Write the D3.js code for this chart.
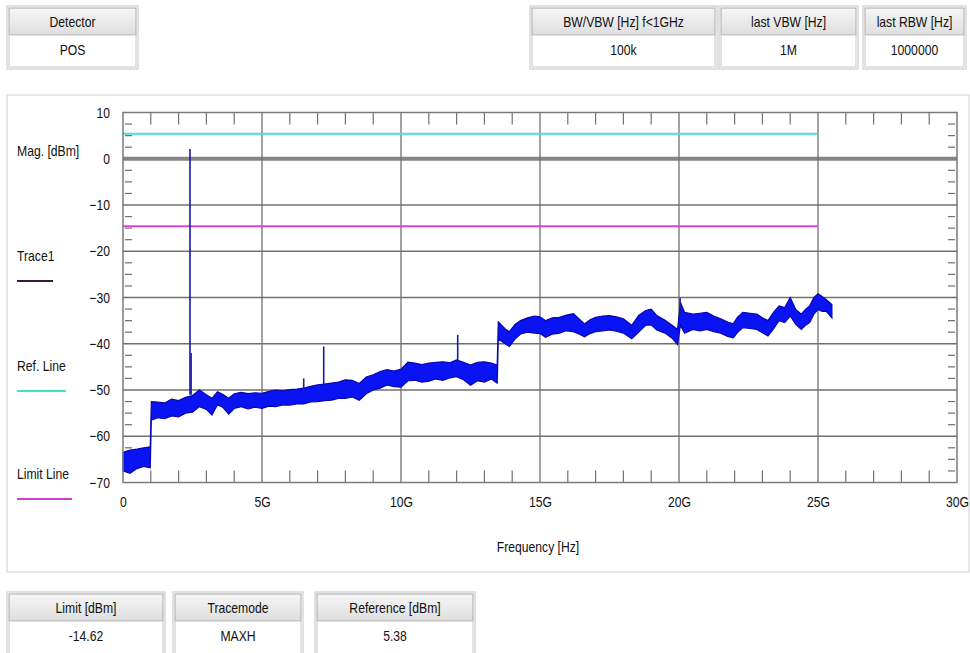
<!DOCTYPE html>
<html>
<head>
<meta charset="utf-8">
<script src="https://cdn.jsdelivr.net/npm/d3@7"></script>
<style>
  body { margin: 0; background: #fff; }
  svg text { font-family: "Liberation Sans", Arial, sans-serif; font-size: 14.5px; fill: #111; }
</style>
</head>
<body>
<svg id="chart" width="970" height="653"></svg>
<script>
// trace envelope (GHz, lower edge dBm, upper edge dBm)
const TRACE_GHZ = [0, 0.25, 0.5, 0.75, 0.98, 1.02, 1.25, 1.5, 1.75, 2, 2.25, 2.5, 2.75, 3, 3.2, 3.4, 3.6, 3.8, 4,
  4.25, 4.5, 4.75, 5, 5.25, 5.5, 5.75, 6, 6.25, 6.5, 6.75, 7, 7.25, 7.5, 7.75, 8, 8.25, 8.5, 8.75, 9, 9.25, 9.5,
  9.75, 10, 10.25, 10.5, 10.75, 11, 11.25, 11.5, 11.75, 12, 12.25, 12.5, 12.75, 13, 13.25, 13.46, 13.5, 13.75, 13.9,
  14.1, 14.3, 14.55, 14.8, 15, 15.2, 15.45, 15.7, 15.95, 16.2, 16.4, 16.6, 16.8, 17, 17.25, 17.5, 17.75, 18, 18.3,
  18.55, 18.8, 19, 19.2, 19.5, 19.75, 19.95, 20.05, 20.2, 20.5, 20.75, 21, 21.25, 21.5, 21.75, 21.95, 22.1, 22.3,
  22.55, 22.8, 23, 23.2, 23.4, 23.6, 23.8, 24, 24.2, 24.4, 24.55, 24.7, 24.85, 25, 25.15, 25.3, 25.5];
const TRACE_LO = [-67.5, -68, -67, -66.5, -66.8, -56.5, -56, -56.2, -55.6, -55.8, -55, -54.8, -53.6, -54.2, -55.4,
  -53.2, -53.8, -55.2, -54, -53.6, -54.1, -53.7, -54, -53.5, -53.6, -53.2, -53.3, -53, -53, -52.6, -52.5, -52.3,
  -52.2, -51.8, -51.8, -51.5, -52.2, -50.8, -50, -49.6, -48.9, -49.3, -49.4, -48, -47.9, -48.3, -48.1, -47.6, -47.9,
  -47.4, -47.1, -47.8, -49, -48, -48.3, -47.6, -48.5, -39, -40, -40.6, -39, -37.9, -37.5, -37.7, -37.8, -38.6, -37.9,
  -37.7, -37.2, -37.4, -37.9, -38.5, -37.8, -37.4, -37.2, -37, -37.3, -37.7, -38.9, -37.5, -36, -35.9, -37, -37.7,
  -38.8, -40.2, -36, -37.7, -36.9, -37.2, -36.9, -37.4, -37.7, -38.4, -38.7, -37.6, -36.5, -36.7, -36.9, -37.6,
  -38.3, -36.8, -35, -35.4, -34, -35.8, -36.9, -36, -35.4, -33.6, -32.6, -33, -33, -34.4];
const TRACE_HI = [-63.5, -63, -62.8, -62.5, -62.3, -52.5, -52.6, -52.8, -52, -52.3, -51.6, -51.2, -50, -51, -51.8,
  -50.4, -51, -51.8, -50.8, -50.5, -50.8, -50.6, -50.7, -50.3, -50, -50.2, -49.9, -49.8, -49.6, -49.2, -48.9, -48.7,
  -48.5, -48.3, -47.8, -47.9, -48.6, -47.2, -46.7, -46, -45.6, -45.9, -45.5, -44, -44.2, -44.5, -44.2, -44, -43.9,
  -44.1, -43.5, -44, -44.6, -44, -43.9, -44.2, -44.6, -35.3, -36.8, -37.4, -35.8, -35, -34.4, -34, -34.2, -35, -34.4,
  -34.3, -33.8, -33.5, -34.6, -35.7, -34.8, -34.3, -34, -33.9, -34.2, -34.6, -36, -33.9, -32.8, -32.5, -33.9, -34.9,
  -36, -36.9, -31, -33.2, -33.6, -33.4, -33.2, -34, -34.6, -35.3, -35.7, -34.3, -33.2, -33.4, -33.6, -34.4, -35,
  -33.2, -31.8, -32.2, -30, -32.6, -33.6, -32.6, -31.8, -30, -29.2, -29.8, -30.5, -31.5];

// narrow spurs sticking out of the noise
const SPIKE_GHZ = [2.41, 2.45, 6.5, 7.22, 12.04, 20.04];
const SPIKE_TOP = [2.1, -42, -47.5, -40.6, -38.1, -30.1];
const SPIKE_BASE = [-51, -51, -50, -49, -44, -34];

const REF_LEVEL = 5.38;
const LIMIT_LEVEL = -14.62;
const LINE_END_GHZ = 25;

const X_TICKS = [0, 5, 10, 15, 20, 25, 30];
const X_LABELS = ["0", "5G", "10G", "15G", "20G", "25G", "30G"];
const Y_TICKS = [10, 0, -10, -20, -30, -40, -50, -60, -70];

const TOP_HEADERS = ["Detector", "BW/VBW [Hz] f<1GHz", "last VBW [Hz]", "last RBW [Hz]"];
const TOP_VALUES = ["POS", "100k", "1M", "1000000"];
const BOTTOM_HEADERS = ["Limit [dBm]", "Tracemode", "Reference [dBm]"];
const BOTTOM_VALUES = ["-14.62", "MAXH", "5.38"];

const LEGEND = [
  { label: "Trace1", color: "#3a1a3a", y: 257, len: 36 },
  { label: "Ref. Line", color: "#40e0d0", y: 367, len: 49 },
  { label: "Limit Line", color: "#d040d0", y: 475, len: 55 },
];

const SQUEEZE = 0.84; // the screen font is narrower than Arial

const svg = d3.select("#chart");

const defs = svg.append("defs");
const grad = defs.append("linearGradient").attr("id", "hdr").attr("x1", 0).attr("x2", 0).attr("y1", 0).attr("y2", 1);
grad.append("stop").attr("offset", "0%").attr("stop-color", "#f6f6f6");
grad.append("stop").attr("offset", "100%").attr("stop-color", "#dedede");

function label(parent, x, y, txt, anchor) {
  parent.append("g")
    .attr("transform", `translate(${x},${y}) scale(${SQUEEZE},1)`)
    .append("text")
    .attr("text-anchor", anchor || "start")
    .attr("dominant-baseline", "middle")
    .text(txt);
}

function drawBox(x, y, w, h, header, value) {
  const g = svg.append("g").attr("transform", `translate(${x},${y})`);
  g.append("rect").attr("width", w).attr("height", h)
    .attr("fill", "#fff").attr("stroke", "#c4c4c4");
  g.append("rect").attr("x", 2).attr("y", 2).attr("width", w - 4).attr("height", 27)
    .attr("fill", "url(#hdr)").attr("stroke", "#a8a8a8");
  g.append("rect").attr("x", 2).attr("y", 29).attr("width", w - 4).attr("height", h - 31)
    .attr("fill", "#fff").attr("stroke", "#c8c8c8");
  label(g, w / 2, 17, header, "middle");
  label(g, w / 2, 45, value, "middle");
}

const TOP_BOXES = [[7, 131], [530, 187], [719, 139], [863, 103]];
TOP_BOXES.forEach((b, i) => drawBox(b[0], 6, b[1], 63, TOP_HEADERS[i], TOP_VALUES[i]));

const BOTTOM_BOXES = [[7, 158], [173, 130], [315, 160]];
BOTTOM_BOXES.forEach((b, i) => drawBox(b[0], 592, b[1], 70, BOTTOM_HEADERS[i], BOTTOM_VALUES[i]));

// main panel
svg.append("rect").attr("x", 7).attr("y", 95).attr("width", 962).attr("height", 477)
  .attr("fill", "#fff").attr("stroke", "#cfcfcf");

const xScale = d3.scaleLinear().domain([0, 30]).range([123, 957]);
const yScale = d3.scaleLinear().domain([-70, 10]).range([482.5, 112.5]);

const plot = svg.append("g");

// grid
plot.selectAll(".hgrid")
  .data(Y_TICKS.filter(v => v > -70 && v < 10))
  .enter().append("line")
  .attr("x1", xScale(0)).attr("x2", xScale(30))
  .attr("y1", d => yScale(d)).attr("y2", d => yScale(d))
  .attr("stroke", d => d === 0 ? "#858585" : "#707070")
  .attr("stroke-width", d => d === 0 ? 4 : 1.3);

plot.selectAll(".vgrid")
  .data(X_TICKS.filter(v => v > 0 && v < 30))
  .enter().append("line")
  .attr("y1", yScale(10)).attr("y2", yScale(-70))
  .attr("x1", d => xScale(d)).attr("x2", d => xScale(d))
  .attr("stroke", "#707070").attr("stroke-width", 1.3);

// minor ticks
const xMinor = d3.range(1, 30).filter(v => v % 5 !== 0);
const yMinor = d3.range(-67.5, 10, 2.5).filter(v => v % 10 !== 0);
[[yScale(10), yScale(10) + 12], [yScale(-70) - 12, yScale(-70)]].forEach(([a, b]) => {
  plot.append("g").selectAll("line").data(xMinor).enter().append("line")
    .attr("x1", d => xScale(d)).attr("x2", d => xScale(d))
    .attr("y1", a).attr("y2", b)
    .attr("stroke", "#707070").attr("stroke-width", 1.2);
});
[[xScale(0) + 2, xScale(0) + 9], [xScale(30) - 9, xScale(30) - 2]].forEach(([a, b]) => {
  plot.append("g").selectAll("line").data(yMinor).enter().append("line")
    .attr("x1", a).attr("x2", b)
    .attr("y1", d => yScale(d)).attr("y2", d => yScale(d))
    .attr("stroke", "#707070").attr("stroke-width", 1.2);
});

// reference and limit lines
[[REF_LEVEL, "#40e0d8"], [LIMIT_LEVEL, "#e040e0"]].forEach(([v, c]) => {
  plot.append("line")
    .attr("x1", xScale(0)).attr("x2", xScale(LINE_END_GHZ))
    .attr("y1", yScale(v)).attr("y2", yScale(v))
    .attr("stroke", c).attr("stroke-width", 2);
});

// trace
const traceData = TRACE_GHZ.map((f, i) => ({ f, lo: TRACE_LO[i], hi: TRACE_HI[i] }));
const area = d3.area()
  .x(d => xScale(d.f))
  .y0(d => yScale(d.lo))
  .y1(d => yScale(d.hi));
plot.append("path").datum(traceData)
  .attr("d", area)
  .attr("fill", "#0a14f2")
  .attr("stroke", "#0606b0")
  .attr("stroke-width", 1.2)
  .attr("stroke-linejoin", "miter");

plot.selectAll(".spike")
  .data(SPIKE_GHZ.map((f, i) => ({ f, top: SPIKE_TOP[i], base: SPIKE_BASE[i] })))
  .enter().append("line")
  .attr("x1", d => xScale(d.f)).attr("x2", d => xScale(d.f))
  .attr("y1", d => yScale(d.base)).attr("y2", d => yScale(d.top))
  .attr("stroke", "#1a1aa8").attr("stroke-width", 1.6);

// frame
plot.append("rect")
  .attr("x", xScale(0)).attr("y", yScale(10))
  .attr("width", xScale(30) - xScale(0)).attr("height", yScale(-70) - yScale(10))
  .attr("fill", "none").attr("stroke", "#7a7a7a").attr("stroke-width", 1.5);

// axes labels
const yAxis = svg.append("g")
  .attr("transform", "translate(110,0)")
  .call(d3.axisLeft(yScale).tickValues(Y_TICKS).tickSize(0).tickPadding(0));
yAxis.select(".domain").remove();
yAxis.selectAll("text").attr("font-size", null).attr("font-family", null)
  .attr("transform", `scale(${SQUEEZE},1)`);

const xAxis = svg.append("g")
  .attr("transform", "translate(0,497)")
  .call(d3.axisBottom(xScale).tickValues(X_TICKS).tickSize(0).tickPadding(0)
    .tickFormat((d, i) => X_LABELS[i]));
xAxis.select(".domain").remove();
xAxis.selectAll("text").attr("font-size", null).attr("font-family", null)
  .attr("transform", `scale(${SQUEEZE},1)`);

label(svg, 538, 548, "Frequency [Hz]", "middle");

// legend
label(svg, 17, 152, "Mag. [dBm]");
LEGEND.forEach(d => {
  label(svg, 17, d.y, d.label);
  svg.append("line")
    .attr("x1", 17).attr("x2", 17 + d.len)
    .attr("y1", d.y + 24).attr("y2", d.y + 24)
    .attr("stroke", d.color).attr("stroke-width", 2);
});
</script>
</body>
</html>
